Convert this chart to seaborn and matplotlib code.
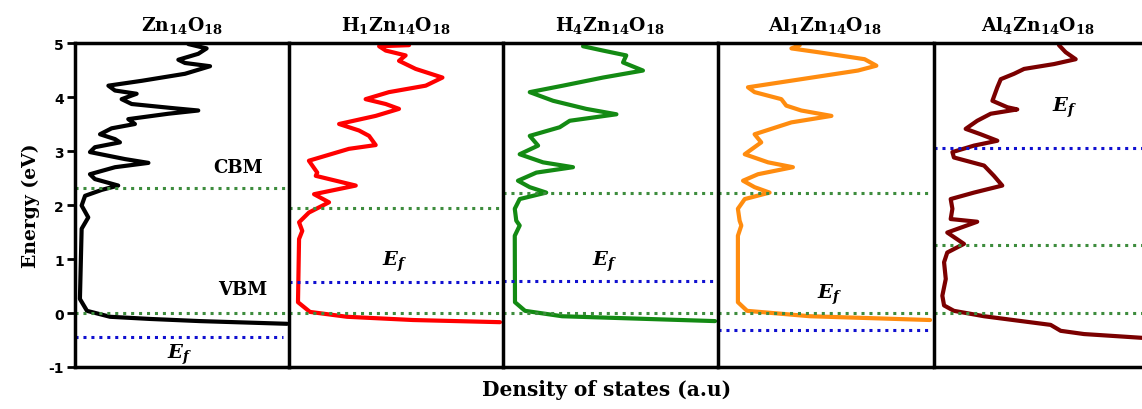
import numpy as np
import pandas as pd
import matplotlib
matplotlib.use('Agg')
import matplotlib.pyplot as plt
import seaborn as sns

# DOS curves (energy in eV, density in a.u., 1 = panel width)
e_zn = [4.98, 4.90, 4.80, 4.69, 4.63, 4.57, 4.43, 4.30, 4.21, 4.12, 4.06, 3.96, 3.87, 3.79, 3.75, 3.69,
        3.59, 3.50, 3.42, 3.31, 3.22, 3.16, 3.07, 2.98, 2.85, 2.78, 2.70, 2.57, 2.48, 2.36, 2.28, 2.17,
        1.99, 1.77, 1.56, 0.26, 0.04, -0.07, -0.11, -0.15, -0.20]
d_zn = [0.530, 0.615, 0.576, 0.483, 0.514, 0.631, 0.514, 0.312, 0.156, 0.187, 0.288, 0.218, 0.265, 0.467, 0.576, 0.436,
        0.249, 0.280, 0.171, 0.117, 0.187, 0.210, 0.093, 0.070, 0.234, 0.343, 0.187, 0.070, 0.093, 0.202, 0.125, 0.047,
        0.031, 0.062, 0.031, 0.023, 0.056, 0.164, 0.350, 0.584, 0.991]

e_h1 = [4.96, 4.94, 4.86, 4.77, 4.67, 4.52, 4.36, 4.21, 4.09, 3.96, 3.87, 3.78, 3.65, 3.50, 3.38, 3.28,
        3.11, 3.04, 2.82, 2.60, 2.54, 2.36, 2.20, 2.05, 1.86, 1.68, 1.52, 1.37, 0.20, 0.02, -0.07, -0.13, -0.17]
d_h1 = [0.561, 0.421, 0.452, 0.545, 0.514, 0.592, 0.717, 0.639, 0.467, 0.358, 0.452, 0.514, 0.405, 0.234, 0.327, 0.374,
        0.405, 0.280, 0.093, 0.132, 0.125, 0.312, 0.117, 0.187, 0.093, 0.047, 0.062, 0.047, 0.042, 0.098, 0.271, 0.579, 0.986]

e_h4 = [4.94, 4.86, 4.77, 4.64, 4.49, 4.36, 4.21, 4.09, 3.93, 3.78, 3.68, 3.56, 3.44, 3.28, 3.10, 2.94,
        2.79, 2.70, 2.60, 2.45, 2.33, 2.23, 2.11, 1.93, 1.71, 1.62, 1.43, 0.20, 0.04, -0.06, -0.15]
d_h4 = [0.374, 0.467, 0.576, 0.561, 0.654, 0.467, 0.280, 0.125, 0.234, 0.389, 0.530, 0.312, 0.265, 0.125, 0.164, 0.078,
        0.187, 0.327, 0.156, 0.070, 0.125, 0.202, 0.078, 0.055, 0.062, 0.078, 0.055, 0.056, 0.103, 0.276, 0.991]

e_al1 = [4.96, 4.90, 4.83, 4.70, 4.58, 4.49, 4.33, 4.18, 4.09, 3.96, 3.84, 3.75, 3.65, 3.53, 3.31, 3.16,
         2.94, 2.79, 2.70, 2.57, 2.45, 2.33, 2.23, 2.11, 1.93, 1.71, 1.62, 1.43, 0.20, 0.04, -0.06, -0.13]
d_al1 = [0.382, 0.343, 0.467, 0.685, 0.740, 0.654, 0.389, 0.140, 0.171, 0.296, 0.319, 0.389, 0.530, 0.343, 0.171, 0.202,
         0.125, 0.234, 0.350, 0.187, 0.117, 0.171, 0.241, 0.125, 0.093, 0.101, 0.109, 0.093, 0.093, 0.136, 0.430, 0.991]

e_al4 = [4.96, 4.83, 4.70, 4.61, 4.52, 4.43, 4.33, 4.18, 3.93, 3.81, 3.77, 3.69, 3.56, 3.41, 3.31, 3.19,
         3.10, 2.98, 2.88, 2.73, 2.54, 2.36, 2.23, 2.11, 1.93, 1.74, 1.69, 1.49, 1.28, 1.12, 0.94, 0.63,
         0.32, 0.14, 0.04, -0.06, -0.14, -0.22, -0.33, -0.39, -0.43, -0.46, -0.48]
d_al4 = [0.584, 0.615, 0.662, 0.561, 0.421, 0.374, 0.312, 0.296, 0.273, 0.343, 0.389, 0.265, 0.202, 0.148, 0.218, 0.296,
         0.187, 0.086, 0.093, 0.234, 0.280, 0.319, 0.187, 0.078, 0.086, 0.078, 0.202, 0.062, 0.140, 0.062, 0.047, 0.055,
         0.039, 0.047, 0.093, 0.234, 0.389, 0.545, 0.592, 0.701, 0.857, 0.972, 1.090]

titles = [r'$\mathbf{Zn_{14}O_{18}}$', r'$\mathbf{H_{1}Zn_{14}O_{18}}$', r'$\mathbf{H_{4}Zn_{14}O_{18}}$',
          r'$\mathbf{Al_{1}Zn_{14}O_{18}}$', r'$\mathbf{Al_{4}Zn_{14}O_{18}}$']
colors = ['black', '#ff0000', '#138a13', '#ff8c0f', '#7b0000']
energies = [e_zn, e_h1, e_h4, e_al1, e_al4]
dos = [d_zn, d_h1, d_h4, d_al1, d_al4]

# band edges and Fermi level (eV)
cbm = [2.31, 1.94, 2.23, 2.23, 1.26]
vbm = [0.0, 0.0, 0.0, 0.0, 0.0]
ef = [-0.44, 0.58, 0.60, -0.31, 3.05]
ef_label = [(0.49, -0.76), (0.495, 0.96), (0.477, 0.96), (0.524, 0.35), (0.612, 3.81)]

sns.set_theme(style='white')
plt.rcParams['font.family'] = ['DejaVu Serif']
plt.rcParams['mathtext.fontset'] = 'dejavuserif'
plt.rcParams['axes.unicode_minus'] = False
plt.rcParams['text.color'] = 'black'
plt.rcParams['axes.labelcolor'] = 'black'
plt.rcParams['ytick.color'] = 'black'

W, H = 1142, 410
fig = plt.figure(figsize=(W / 100, H / 100), dpi=100)
lefts = [75, 289, 503, 718, 934]
pw = 214
bottom = 1 - 368 / H
height = (368 - 44) / H

for i in range(5):
    width = pw if i < 4 else W - lefts[i]
    ax = fig.add_axes([lefts[i] / W, bottom, width / W, height])
    df = pd.DataFrame({'dos': dos[i], 'energy': energies[i]})
    sns.lineplot(data=df, x='dos', y='energy', sort=False, estimator=None, color=colors[i],
                 lw=3, ax=ax, solid_joinstyle='round', solid_capstyle='round')
    ax.axhline(cbm[i], color='#3d8c3d', lw=2.2, ls=(0, (1, 1.6)))
    ax.axhline(vbm[i], color='#3d8c3d', lw=2.2, ls=(0, (1, 1.6)))
    ax.axhline(ef[i], color='#1010d0', lw=2.2, ls=(0, (1, 1.6)), xmax=0.97 if i == 0 else 1)
    ax.text(ef_label[i][0], ef_label[i][1], r'$\mathbfit{E_f}$', fontsize=14, ha='center', va='center')
    ax.set_xlim(0, width / pw)
    ax.set_ylim(-1, 5)
    ax.set_xlabel('')
    ax.set_ylabel('')
    ax.set_xticks([])
    ax.set_title(titles[i], fontsize=13.5, pad=9, color='black')
    for s in ax.spines.values():
        s.set_linewidth(2.5)
        s.set_color('black')
    ax.spines['right'].set_visible(False)
    if i == 0:
        ax.set_yticks(range(-1, 6))
        ax.tick_params(axis='y', length=6, width=2, direction='out', left=True, pad=2)
        for t in ax.get_yticklabels():
            t.set_fontfamily('DejaVu Sans')
            t.set_fontweight('bold')
            t.set_fontsize(10)
        ax.set_ylabel('Energy (eV)', fontsize=13.5, fontweight='bold', labelpad=6)
        ax.text(0.76, 2.70, 'CBM', fontsize=13, fontweight='bold', ha='center', va='center')
        ax.text(0.785, 0.44, 'VBM', fontsize=13, fontweight='bold', ha='center', va='center')
    else:
        ax.set_yticks([])

fig.text(607 / W, 1 - 390 / H, 'Density of states (a.u)', fontsize=14.5, fontweight='bold',
         ha='center', va='center')

fig.savefig('out.png', dpi=100)
